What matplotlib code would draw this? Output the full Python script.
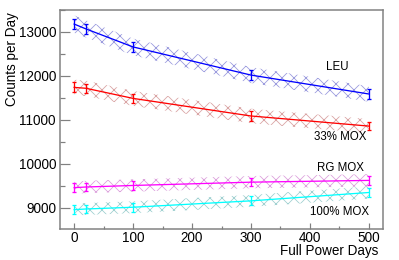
import matplotlib
matplotlib.use("Agg")
import numpy as np
import matplotlib.pyplot as plt
from matplotlib.ticker import MultipleLocator

matplotlib.rcParams['font.family'] = ['Liberation Sans', 'DejaVu Sans']
matplotlib.rcParams['hatch.linewidth'] = 0.8

# Full power days at which the spectra were computed
days = [0, 20, 100, 300, 500]

# Counts per day for each fuel type
leu = [13180, 13070, 12660, 12020, 11590]
mox33 = [11740, 11720, 11490, 11090, 10860]
rgmox = [9460, 9475, 9510, 9585, 9625]
mox100 = [8960, 8975, 9015, 9160, 9350]

# statistical error bars
leu_err = [120, 110, 120, 115, 115]
mox33_err = [115, 105, 110, 105, 100]
rgmox_err = [95, 95, 95, 95, 95]
mox100_err = [100, 100, 100, 100, 100]

# systematic bands (half widths)
leu_band = [200, 195, 190, 180, 175]
mox33_band = [175, 175, 170, 165, 160]
rgmox_band = [140, 140, 140, 140, 140]
mox100_band = [135, 135, 135, 135, 140]

labels = ["LEU", "33% MOX", "RG MOX", "100% MOX"]
label_x = [446, 451, 451, 451]
label_y = [12205, 10614, 9909, 8909]

series = [
    (leu, leu_err, leu_band, "#0000ff", "#9a9ade"),
    (mox33, mox33_err, mox33_band, "#ff0000", "#d9a3a3"),
    (rgmox, rgmox_err, rgmox_band, "#ff00ff", "#dca0dc"),
    (mox100, mox100_err, mox100_band, "#00ffff", "#9fd0d0"),
]

fig = plt.figure(figsize=(399 / 72.0, 260 / 72.0), dpi=72)
ax = fig.add_axes([60 / 399.0, 1 - 229 / 260.0, 323 / 399.0, 219 / 260.0])

x = np.array(days)
for vals, err, band, col, bcol in series:
    v = np.array(vals)
    b = np.array(band)
    ax.fill_between(x, v - b, v + b, facecolor="none", edgecolor=bcol,
                    hatch="xx", linewidth=0, zorder=1)
    ax.plot(x, v, color=col, lw=1.3, zorder=3)
    ax.errorbar(x, v, yerr=err, fmt="none", ecolor=col, elinewidth=1.3,
                capsize=2, capthick=1.3, zorder=4)

for lab, lx, ly in zip(labels, label_x, label_y):
    ax.text(lx, ly, lab, ha="center", va="center", fontsize=11.5)

ax.set_xlim(-24, 524)
ax.set_ylim(8520, 13500)
ax.xaxis.set_major_locator(MultipleLocator(100))
ax.xaxis.set_minor_locator(MultipleLocator(50))
ax.yaxis.set_major_locator(MultipleLocator(1000))
ax.yaxis.set_minor_locator(MultipleLocator(500))
ax.tick_params(axis='both', which='both', direction='in', color='#808080',
               width=1.2, labelsize=13.5, top=False, right=False)
ax.tick_params(axis='y', which='major', length=10, pad=4)
ax.tick_params(axis='y', which='minor', length=5)
ax.tick_params(axis='x', which='major', length=6, pad=1.5)
ax.tick_params(axis='x', which='minor', length=3)
for sp in ax.spines.values():
    sp.set_color('#808080')
    sp.set_linewidth(1.5)

fig.text(12 / 399.0, 1 - 12 / 260.0, "Counts per Day", rotation=90,
         ha="center", va="top", fontsize=13.5)
fig.text(378 / 399.0, 1 - 251 / 260.0, "Full Power Days", ha="right",
         va="center", fontsize=13.5)

fig.savefig("out.png", dpi=72)
